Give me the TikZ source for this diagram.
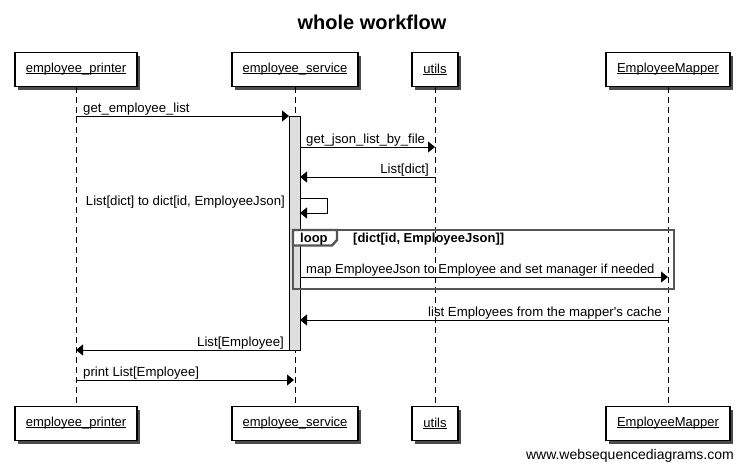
\documentclass[tikz,border=0pt]{standalone}
\usepackage{fontspec}
\setmainfont{Liberation Sans}
\usetikzlibrary{arrows.meta,shadows}
\newcommand\pname[1]{\setbox0\hbox{#1}\rlap{\rule[-1.3pt]{\wd0}{0.7pt}}\box0}
\definecolor{actfill}{HTML}{DEDEDE}
\definecolor{framegray}{HTML}{555555}
\begin{document}
\begin{tikzpicture}[x=1pt,y=-1pt,
  part/.style={draw, line width=1.2pt, fill=white, minimum height=34pt, inner sep=0pt,
    font=\fontsize{13}{15}\selectfont,
    drop shadow={shadow xshift=3pt,shadow yshift=-3pt,fill=black!70,opacity=1}},
  life/.style={line width=0.9pt, dash pattern=on 6pt off 4pt},
  msg/.style={line width=1pt, -{Triangle[length=7pt,width=11pt]}},
  lbl/.style={inner sep=0pt, font=\fontsize{13.2}{15}\selectfont},
  actbar/.style={draw, line width=1pt, fill=actfill, inner sep=0pt, minimum width=11pt}]
\useasboundingbox[fill=white] (0,0) rectangle (744,475);

% title
\node[inner sep=0pt, anchor=base, font=\bfseries\fontsize{20}{24}\selectfont] (title) at (372,29) {whole workflow};

% participants (top)
\node[part, minimum width=122pt] (p1) at (76,69.5) {\pname{employee\_printer}};
\node[part, minimum width=126pt] (p2) at (295,69.5) {\pname{employee\_service}};
\node[part, minimum width=46pt] (p3) at (435,69.5) {\pname{utils}};
\node[part, minimum width=124pt] (p4) at (668,69.5) {\pname{EmployeeMapper}};
% participants (bottom)
\node[part, minimum width=122pt] (b1) at (76,423.5) {\pname{employee\_printer}};
\node[part, minimum width=126pt] (b2) at (295,423.5) {\pname{employee\_service}};
\node[part, minimum width=46pt] (b3) at (435,423.5) {\pname{utils}};
\node[part, minimum width=124pt] (b4) at (668,423.5) {\pname{EmployeeMapper}};

% lifelines
\draw[life] (p1.south) -- (b1.north);
\draw[life] (p2.south) -- (b2.north);
\draw[life] (p3.south) -- (b3.north);
\draw[life] (p4.south) -- (b4.north);

% activation bar
\node[actbar, minimum height=234pt] (act) at (294.5,233) {};

% loop frame
\draw[framegray, line width=2.4pt] (293,230) rectangle (674,289);
\draw[framegray, line width=2.4pt, fill=white] (293,230) -- (337,230) -- (337,240) -- (332,245.5) -- (293,245.5) -- cycle;
\node[lbl, anchor=base west, font=\bfseries\fontsize{13}{15}\selectfont] (looplbl) at (300,242) {loop};
\node[lbl, anchor=base west, font=\bfseries\fontsize{13}{15}\selectfont] (loopcond) at (353,242) {[dict[id, EmployeeJson]]};

% message end points
\coordinate (a1) at (76,116);   \coordinate (a1e) at (289,116);
\coordinate (a2) at (300,147);  \coordinate (a2e) at (435,147);
\coordinate (a3) at (435,177);  \coordinate (a3e) at (300,177);
\coordinate (s1) at (300,198);  \coordinate (s2) at (300,213);
\coordinate (a5) at (300,277);  \coordinate (a5e) at (668,277);
\coordinate (a6) at (668,320);  \coordinate (a6e) at (300,320);
\coordinate (a7) at (289,350);  \coordinate (a7e) at (76,350);
\coordinate (a8) at (76,380);   \coordinate (a8e) at (294,380);

% messages
\draw[msg] (a1) -- (a1e);
\node[lbl, anchor=base west] (l1) at (83,112) {get\_employee\_list};
\draw[msg] (a2) -- (a2e);
\node[lbl, anchor=base west] (l2) at (306,143) {get\_json\_list\_by\_file};
\draw[msg] (a3) -- (a3e);
\node[lbl, anchor=base east] (l3) at (429,173) {List[dict]};
\draw[msg] (s1) -- ++(27,0) -- ++(0,15) -- (s2);
\node[lbl, anchor=base east] (l4) at (285,205) {List[dict] to dict[id, EmployeeJson]};
\draw[msg] (a5) -- (a5e);
\node[lbl, anchor=base west, font=\fontsize{13}{15}\selectfont] (l5) at (306,273) {map EmployeeJson to Employee and set manager if needed};
\draw[msg] (a6) -- (a6e);
\node[lbl, anchor=base east] (l6) at (662,316) {list Employees from the mapper\textquotesingle s cache};
\draw[msg] (a7) -- (a7e);
\node[lbl, anchor=base east] (l7) at (284,346) {List[Employee]};
\draw[msg] (a8) -- (a8e);
\node[lbl, anchor=base west] (l8) at (83,376) {print List[Employee]};

% watermark
\node[inner sep=0pt, anchor=base east, font=\fontsize{14}{16}\selectfont] (wm) at (734,459) {www.websequencediagrams.com};
\end{tikzpicture}
\end{document}
